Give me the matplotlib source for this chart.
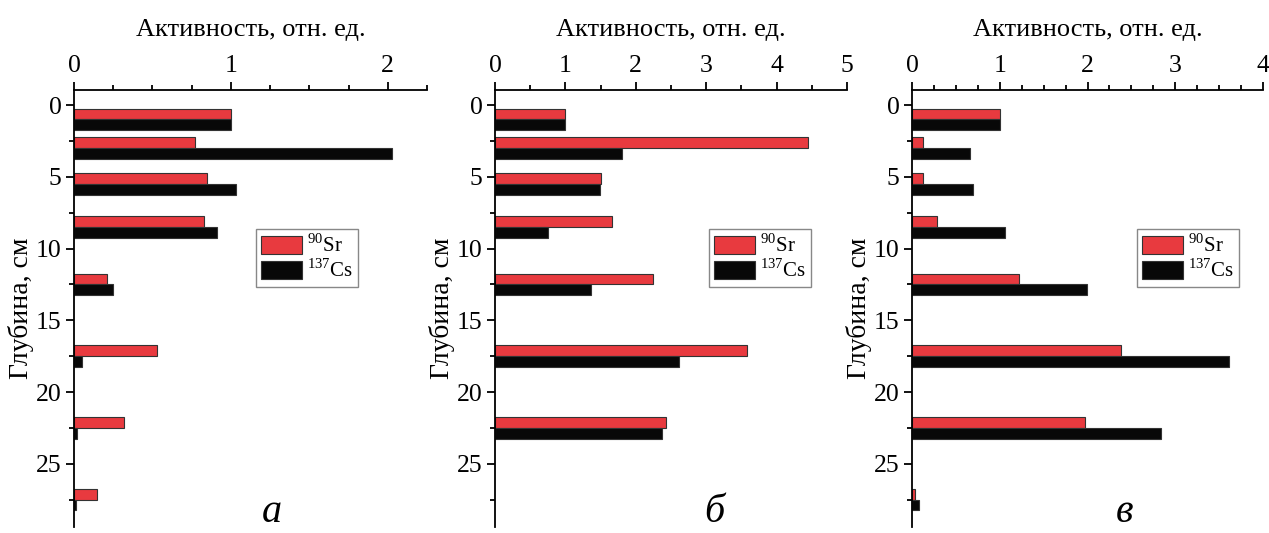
import numpy as np
import matplotlib.pyplot as plt
from matplotlib.ticker import MultipleLocator

plt.rcParams['font.family'] = ['Liberation Serif', 'DejaVu Serif']
plt.rcParams['mathtext.fontset'] = 'custom'
plt.rcParams['mathtext.rm'] = 'Liberation Serif'

# середины слоёв, см
glubina = [1, 3, 5.5, 8.5, 12.5, 17.5, 22.5, 27.5]

# а
sr_a = [1.00, 0.77, 0.85, 0.83, 0.21, 0.53, 0.32, 0.145]
cs_a = [1.00, 2.03, 1.03, 0.91, 0.25, 0.05, 0.02, 0.01]
# б
sr_b = [1.00, 4.44, 1.50, 1.66, 2.24, 3.58, 2.43]
cs_b = [1.00, 1.80, 1.49, 0.75, 1.37, 2.61, 2.37]
# в
sr_v = [1.00, 0.13, 0.13, 0.28, 1.22, 2.38, 1.97, 0.03]
cs_v = [1.00, 0.66, 0.69, 1.06, 1.99, 3.61, 2.84, 0.08]

# буква, Sr, Cs, xmax, шаг делений, мелкий шаг, левый край и ширина (px),
# положение буквы и легенды по x (доли оси)
paneli = [
    ('а', sr_a, cs_a, 2.25, 1, 0.25, 74, 353, 0.56, 0.516),
    ('б', sr_b, cs_b, 5.0, 1, 0.5, 495, 352, 0.622, 0.608),
    ('в', sr_v, cs_v, 4.0, 1, 0.25, 912, 351, 0.605, 0.641),
]

W, H = 1269, 533
fig = plt.figure(figsize=(W / 100, H / 100), dpi=100)

h = 0.75  # толщина столбика
for bukva, sr, cs, xmax, major, minor, left_px, width_px, x_bukva, x_leg in paneli:
    ax = fig.add_axes([left_px / W, 1 - 527 / H, width_px / W, (527 - 90) / H])
    y = np.array(glubina[:len(sr)])
    ax.barh(y - h / 2, sr, height=h, color='#e83a3f', edgecolor='#333333',
            linewidth=0.8, label='$^{90}$Sr')
    ax.barh(y + h / 2, cs, height=h, color='#080808', edgecolor='#333333',
            linewidth=0.8, label='$^{137}$Cs')

    ax.set_xlim(0, xmax)
    ax.set_ylim(29.4, -1.05)
    ax.xaxis.set_major_locator(MultipleLocator(major))
    ax.xaxis.set_minor_locator(MultipleLocator(minor))
    ax.yaxis.set_major_locator(MultipleLocator(5))
    ax.yaxis.set_minor_locator(MultipleLocator(2.5))

    ax.xaxis.tick_top()
    ax.xaxis.set_label_position('top')
    for s in ['right', 'bottom']:
        ax.spines[s].set_visible(False)
    for s in ['left', 'top']:
        ax.spines[s].set_linewidth(1.3)
    ax.tick_params(which='major', direction='out', length=6, width=1.3,
                   labelsize=18.5, pad=3)
    ax.tick_params(which='minor', direction='out', length=3.5, width=1.3)

    ax.set_xlabel('Активность, отн. ед.', fontsize=19, labelpad=14)
    ax.set_ylabel('Глубина, см', fontsize=20, labelpad=1)

    ax.legend(loc='upper left', bbox_to_anchor=(x_leg, 0.682), borderaxespad=0,
              fontsize=15, handlelength=1.95, handleheight=0.95,
              labelspacing=0.12, borderpad=0.25, handletextpad=0.25,
              fancybox=False, framealpha=1, edgecolor='#888888')

    ax.text(x_bukva, 0.012, bukva, transform=ax.transAxes, ha='center',
            va='baseline', fontsize=29, style='italic')

fig.savefig('out.png', dpi=100)
